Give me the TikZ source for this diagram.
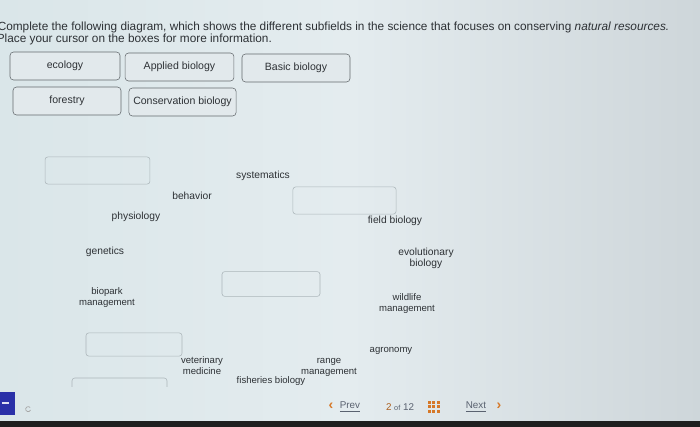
\documentclass[tikz,border=0pt]{standalone}
\usepackage{fontspec}
\setmainfont{Liberation Sans}
\definecolor{bgleft}{RGB}{218,230,233}
\definecolor{bgmid}{RGB}{228,236,239}
\definecolor{bgright}{RGB}{206,214,218}
\definecolor{ink}{RGB}{45,49,53}
\definecolor{tagline}{RGB}{100,106,110}
\definecolor{tagfill}{RGB}{226,233,236}
\definecolor{slotline}{RGB}{172,182,186}
\definecolor{navorange}{RGB}{214,120,40}
\definecolor{navgray}{RGB}{90,98,112}
\definecolor{btnblue}{RGB}{42,48,168}
\begin{document}
\begin{tikzpicture}[x=0.025cm, y=-0.025cm,
  tag/.style={draw=tagline, fill=tagfill, rounded corners=2.5pt, minimum height=0.7cm, inner sep=0pt, text=ink, font=\fontsize{7.5}{9}\selectfont},
  slot/.style={draw=slotline, rounded corners=2pt, inner sep=0pt},
  lbl/.style={text=ink, align=center, inner sep=0pt, font=\fontsize{7.3}{8}\selectfont},
  small/.style={text=ink, align=center, inner sep=0pt, font=\fontsize{6.8}{8.2}\selectfont},
  nav/.style={inner sep=0pt, font=\fontsize{7}{8}\selectfont}]
      % screen
      \useasboundingbox (0,0) rectangle (700,427);
      \shade[left color=bgleft, right color=bgright, middle color=bgmid] (0,0) rectangle (700,427);
      % instructions
      \node[anchor=base west, text=ink, inner sep=0pt, font=\fontsize{8.4}{10}\selectfont] (line1) at (-2.5,30.5) {Complete the following diagram, which shows the different subfields in the science that focuses on conserving \textit{natural resources.}};
      \node[anchor=base west, text=ink, inner sep=0pt, font=\fontsize{8.4}{10}\selectfont] (line2) at (-3.5,43) {Place your cursor on the boxes for more information.};
      % answer boxes
      \node[tag, minimum width=2.75cm] (ecology) at (65,66) {ecology};
      \node[tag, minimum width=2.72cm] (applied) at (179.5,67) {Applied biology};
      \node[tag, minimum width=2.7cm] (basic) at (296,68) {Basic biology};
      \node[tag, minimum width=2.7cm] (forestry) at (67,101) {forestry};
      \node[tag, minimum width=2.68cm] (conservation) at (182.5,102) {Conservation biology};
      % empty drop boxes
      \node[slot, minimum width=2.62cm, minimum height=0.68cm] (slotA) at (97.5,170.5) {};
      \node[slot, minimum width=2.58cm, minimum height=0.68cm] (slotB) at (344.5,200.5) {};
      \node[slot, minimum width=2.45cm, minimum height=0.62cm] (slotC) at (271,284) {};
      \node[slot, minimum width=2.4cm, minimum height=0.58cm] (slotD) at (134,344.5) {};
      \draw[slotline, rounded corners=2pt] (72,387) -- (72,378) -- (167,378) -- (167,387);
      % subfield labels
      \node[lbl] (systematics) at (263,176) {systematics};
      \node[lbl] (behavior) at (192,196) {behavior};
      \node[lbl] (physiology) at (136,217) {physiology};
      \node[lbl] (fieldbio) at (395,221) {field biology};
      \node[lbl] (genetics) at (105,252) {genetics};
      \node[lbl] (evolution) at (426,258.5) {evolutionary\\biology};
      \node[small] (biopark) at (107,297.5) {biopark\\management};
      \node[small] (wildlife) at (407,303.5) {wildlife\\management};
      \node[small] (agronomy) at (391,351) {agronomy};
      \node[small] (vet) at (202,365.5) {veterinary\\medicine};
      \node[small] (range) at (329,367.5) {range\\management};
      \node[small] (fisheries) at (271,381) {fisheries biology};
      % navigation
      \node[nav, text=navorange, font=\bfseries\fontsize{10}{10}\selectfont] (prevarrow) at (331,406.5) {\char"2039};
      \node[nav, text=navgray] (prev) at (350,407) {\underline{Prev}};
      \node[nav, text=navgray] (page) at (400,407) {{\color{navorange!80!black}2} {\fontsize{5.2}{6}\selectfont of} 12};
      \foreach \i in {0,1,2}
        \foreach \j in {0,1,2}
          \fill[navorange] (428+\i*4.4,401+\j*4.4) rectangle ++(3,3);
      \node[nav, text=navgray] (next) at (476,407) {\underline{Next}};
      \node[nav, text=navorange, font=\bfseries\fontsize{10}{10}\selectfont] (nextarrow) at (499,406.5) {\char"203A};
      % bottom left button
      \fill[btnblue] (0,392) rectangle (15,415);
      \draw[white!85!btnblue, line width=1pt] (2,403) -- (9,403);
      \draw[gray!70, line width=0.5pt] (30.5,410) arc (20:320:2.5);
      % screen edge
      \fill[black!88] (0,421) rectangle (700,427);
\end{tikzpicture}
\end{document}
